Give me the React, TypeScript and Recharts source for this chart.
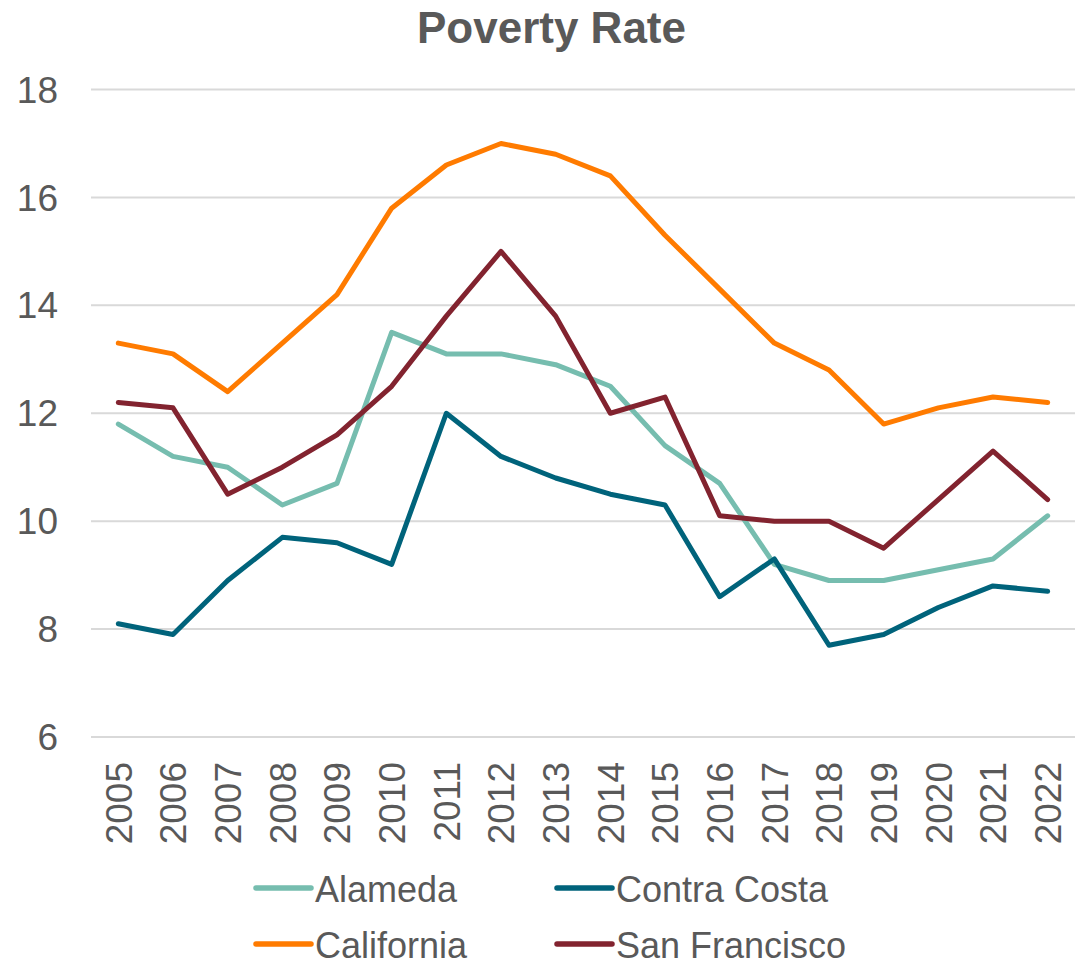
import React from 'react';
import { LineChart, Line, XAxis, YAxis, CartesianGrid, Legend } from 'recharts';

const years = ['2005','2006','2007','2008','2009','2010','2011','2012','2013','2014','2015','2016','2017','2018','2019','2020','2021','2022'];
const alameda = [11.8, 11.2, 11.0, 10.3, 10.7, 13.5, 13.1, 13.1, 12.9, 12.5, 11.4, 10.7, 9.2, 8.9, 8.9, 9.1, 9.3, 10.1];
const contraCosta = [8.1, 7.9, 8.9, 9.7, 9.6, 9.2, 12.0, 11.2, 10.8, 10.5, 10.3, 8.6, 9.3, 7.7, 7.9, 8.4, 8.8, 8.7];
const california = [13.3, 13.1, 12.4, 13.3, 14.2, 15.8, 16.6, 17.0, 16.8, 16.4, 15.3, 14.3, 13.3, 12.8, 11.8, 12.1, 12.3, 12.2];
const sanFrancisco = [12.2, 12.1, 10.5, 11.0, 11.6, 12.5, 13.8, 15.0, 13.8, 12.0, 12.3, 10.1, 10.0, 10.0, 9.5, 10.4, 11.3, 10.4];
const yTicks = [6, 8, 10, 12, 14, 16, 18];

const series = [
  { key: 'Alameda', values: alameda, color: '#76BDAF' },
  { key: 'Contra Costa', values: contraCosta, color: '#00637B' },
  { key: 'California', values: california, color: '#FF7B00' },
  { key: 'San Francisco', values: sanFrancisco, color: '#82232F' },
];

const data = years.map((y, i) => {
  const row: any = { year: y };
  series.forEach((s) => { row[s.key] = s.values[i]; });
  return row;
});

const FONT = '"Liberation Sans", Arial, sans-serif';
const TEXT = '#595959';

const XTick = (props: any) => {
  const { x, y, payload } = props;
  return (
    <text
      x={x}
      y={y}
      transform={`rotate(-90 ${x} ${y})`}
      textAnchor="end"
      dy="0.36em"
      fill={TEXT}
      fontSize={37}
      fontFamily={FONT}
    >
      {payload.value}
    </text>
  );
};

const legendLayout = [
  { key: 'Alameda', lx: 256, ly: 41, tx: 315 },
  { key: 'Contra Costa', lx: 557, ly: 41, tx: 616 },
  { key: 'California', lx: 256, ly: 97, tx: 315 },
  { key: 'San Francisco', lx: 557, ly: 97, tx: 616 },
];

const LegendContent = () => (
  <svg width={1088} height={116} style={{ display: 'block', overflow: 'visible' }}>
    {legendLayout.map((l) => {
      const s = series.find((x) => x.key === l.key)!;
      return (
        <g key={l.key}>
          <line x1={l.lx} x2={l.lx + 55} y1={l.ly} y2={l.ly} stroke={s.color} strokeWidth={5.5} strokeLinecap="round" />
          <text x={l.tx} y={l.ly + 13.5} fill={TEXT} fontSize={36} fontFamily={FONT}>{l.key}</text>
        </g>
      );
    })}
  </svg>
);

export default function App() {
  return (
    <div style={{ position: 'absolute', left: 0, top: 0, width: 1088, height: 963, background: '#fff' }}>
      <div
        style={{
          position: 'absolute',
          left: 0,
          top: 5.5,
          width: 1103,
          textAlign: 'center',
          fontFamily: FONT,
          fontWeight: 'bold',
          fontSize: 44,
          lineHeight: '44px',
          color: TEXT,
          zIndex: 2,
        }}
      >
        Poverty Rate
      </div>
      <LineChart width={1088} height={963} data={data} margin={{ top: 89.5, right: 13, left: 0, bottom: 0 }}>
        <CartesianGrid vertical={false} stroke="#D9D9D9" strokeWidth={2} />
        <XAxis
          dataKey="year"
          height={110}
          padding={{ left: 27.33, right: 27.33 }}
          axisLine={false}
          tickLine={false}
          tickSize={0}
          tickMargin={25}
          interval={0}
          tick={<XTick />}
        />
        <YAxis
          width={91}
          domain={[6, 18]}
          ticks={yTicks}
          axisLine={false}
          tickLine={false}
          tickSize={0}
          tickMargin={33}
          tick={{ fill: TEXT, fontSize: 37, fontFamily: FONT }}
        />
        <Legend
          verticalAlign="bottom"
          height={116}
          content={<LegendContent />}
          wrapperStyle={{ left: 0, width: 1088, height: 116 }}
        />
        {series.map((s) => (
          <Line
            key={s.key}
            dataKey={s.key}
            stroke={s.color}
            strokeWidth={5}
            strokeLinecap="round"
            strokeLinejoin="round"
            dot={false}
            activeDot={false}
            isAnimationActive={false}
          />
        ))}
      </LineChart>
    </div>
  );
}
